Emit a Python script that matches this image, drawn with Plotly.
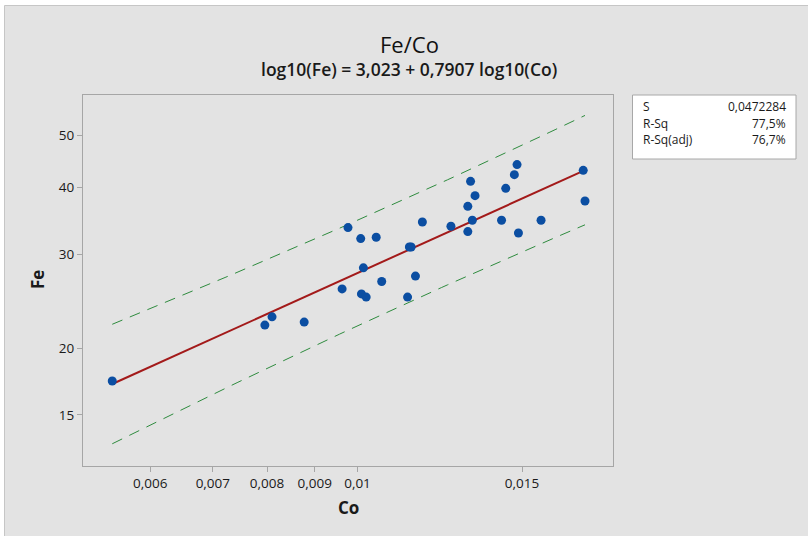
import numpy as np
import plotly.graph_objects as go

# ---- data ----
co = [0.005463, 0.007958, 0.008100, 0.008768, 0.009627, 0.009768, 0.010079, 0.010146,
      0.010097, 0.010216, 0.010471, 0.010614, 0.011313, 0.011363, 0.011413, 0.011535,
      0.011733, 0.012589, 0.013124, 0.013124, 0.013213, 0.013271, 0.013360, 0.014262,
      0.014410, 0.014719, 0.014817, 0.014868, 0.015721, 0.017443, 0.017519]
fe = [17.36, 22.09, 22.89, 22.38, 25.82, 33.62, 32.07, 28.27,
      25.27, 24.92, 32.25, 26.66, 24.92, 30.93, 30.93, 27.28,
      34.44, 33.81, 33.05, 36.85, 41.03, 34.70, 38.58, 34.70,
      39.81, 42.23, 44.10, 32.85, 34.70, 43.03, 37.70]

x_tickvals = [0.006, 0.007, 0.008, 0.009, 0.01, 0.015]
x_ticktext = ["0,006", "0,007", "0,008", "0,009", "0,01", "0,015"]
y_tickvals = [15, 20, 30, 40, 50]
y_ticktext = ["15", "20", "30", "40", "50"]

title = "Fe/Co"
subtitle = "log10(Fe) = 3,023 + 0,7907 log10(Co)"
stats_labels = ["S", "R-Sq", "R-Sq(adj)"]
stats_values = ["0,0472284", "77,5%", "76,7%"]

B0, B1, S_ERR, T_CRIT = 3.023, 0.7907, 0.0472284, 2.045

# ---- fit and 95% prediction interval (log-log) ----
lx = np.log10(np.array(co))
n = len(lx)
xbar = lx.mean()
sxx = ((lx - xbar) ** 2).sum()
g = np.linspace(lx.min(), lx.max(), 80)
fit = B0 + B1 * g
half = T_CRIT * S_ERR * np.sqrt(1 + 1 / n + (g - xbar) ** 2 / sxx)
gx = 10 ** g

# ---- layout geometry (pixels) ----
W, H = 808, 536
L, R, T, B = 83, 613, 95, 466
pw, ph = R - L, B - T


def px(x):
    return (x - L) / pw


def py(y):
    return (B - y) / ph


FONT = "Open Sans"
DARK = "#1a1a1a"
fig = go.Figure()
fig.add_trace(go.Scatter(x=gx, y=10 ** (fit + half), mode="lines",
                         line=dict(color="#2e8b3e", width=1, dash="11px,8px"),
                         hoverinfo="skip", showlegend=False))
fig.add_trace(go.Scatter(x=gx, y=10 ** (fit - half), mode="lines",
                         line=dict(color="#2e8b3e", width=1, dash="11px,8px"),
                         hoverinfo="skip", showlegend=False))
fig.add_trace(go.Scatter(x=gx, y=10 ** fit, mode="lines",
                         line=dict(color="#a31a1a", width=2),
                         hoverinfo="skip", showlegend=False))
fig.add_trace(go.Scatter(x=co, y=fe, mode="markers",
                         marker=dict(color="#0b4ea2", size=9, line=dict(width=0)),
                         showlegend=False))

shapes = [
    dict(type="rect", xref="paper", yref="paper", layer="below",
         x0=px(4.5), x1=px(W + 5), y0=py(H + 5), y1=py(5.5),
         fillcolor="#e3e3e3", line=dict(color="#c6c6c6", width=1)),
    dict(type="rect", xref="paper", yref="paper", layer="above",
         x0=px(632.5), x1=px(796), y0=py(159), y1=py(95),
         fillcolor="white", line=dict(color="#a8a8a8", width=1)),
]

annotations = [
    dict(text=title, x=px(409), y=py(44), xref="paper", yref="paper",
         showarrow=False, xanchor="center", yanchor="middle",
         font=dict(family=FONT, size=22, color="#111111")),
    dict(text=subtitle, x=px(409), y=py(69), xref="paper", yref="paper",
         showarrow=False, xanchor="center", yanchor="middle",
         font=dict(family=FONT, size=17.5, color=DARK, weight=600)),
    dict(text="Co", x=px(348), y=py(507), xref="paper", yref="paper",
         showarrow=False, xanchor="center", yanchor="middle",
         font=dict(family=FONT, size=17, color=DARK, weight="bold")),
    dict(text="Fe", x=px(37), y=py(280), xref="paper", yref="paper",
         showarrow=False, xanchor="center", yanchor="middle", textangle=-90,
         font=dict(family=FONT, size=17, color=DARK, weight="bold")),
]
row_y = [106.5, 123.0, 139.5]
for lab, val, yy in zip(stats_labels, stats_values, row_y):
    annotations.append(dict(text=lab, x=px(641), y=py(yy), xref="paper", yref="paper",
                            showarrow=False, xanchor="left", yanchor="middle",
                            font=dict(family=FONT, size=12, color=DARK)))
    annotations.append(dict(text=val, x=px(788), y=py(yy), xref="paper", yref="paper",
                            showarrow=False, xanchor="right", yanchor="middle",
                            font=dict(family=FONT, size=12, color=DARK)))

fig.update_layout(
    width=W, height=H,
    margin=dict(l=L, r=W - R, t=T, b=H - B, pad=0),
    paper_bgcolor="white", plot_bgcolor="white",
    shapes=shapes, annotations=annotations,
    font=dict(family=FONT, size=13.5, color=DARK),
)
fig.update_xaxes(type="log", range=[np.log10(0.005083), np.log10(0.018771)],
                 tickvals=x_tickvals, ticktext=x_ticktext,
                 showgrid=False, zeroline=False, showline=True, mirror=True,
                 linecolor="#a6a6a6", linewidth=1,
                 ticks="outside", ticklen=5, tickcolor="#a6a6a6",
                 tickfont=dict(family=FONT, size=13.5, color=DARK))
fig.update_yaxes(type="log", range=[np.log10(12.04), np.log10(59.52)],
                 tickvals=y_tickvals, ticktext=y_ticktext,
                 showgrid=False, zeroline=False, showline=True, mirror=True,
                 linecolor="#a6a6a6", linewidth=1,
                 ticks="outside", ticklen=5, tickcolor="#a6a6a6",
                 tickfont=dict(family=FONT, size=13.5, color=DARK))

fig.write_html("out.html")
